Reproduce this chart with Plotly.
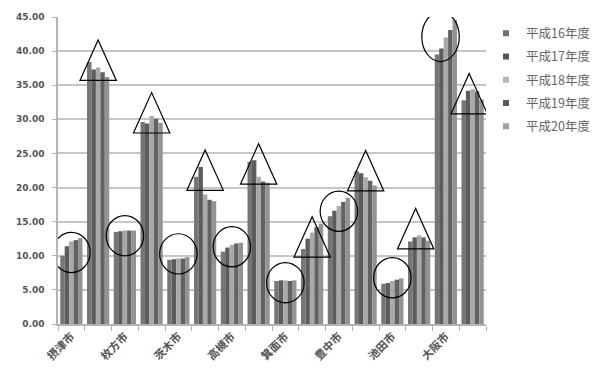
import plotly.graph_objects as go

# City names (two bar groups per city; only the first group of each pair is labelled)
cities = ["摂津市", "枚方市", "茨木市", "高槻市", "箕面市", "豊中市", "池田市", "大阪市"]
years = ["平成16年度", "平成17年度", "平成18年度", "平成19年度", "平成20年度"]

# One value per bar group (16 groups), one list per fiscal year
h16 = [10.0, 38.4, 13.5, 29.6, 9.4, 21.6, 10.6, 23.8, 6.3, 11.0, 15.8, 22.4, 5.9, 12.1, 39.5, 32.8]
h17 = [11.4, 37.3, 13.6, 29.4, 9.5, 23.0, 11.2, 24.0, 6.4, 12.5, 16.6, 22.1, 6.0, 12.7, 40.4, 34.2]
h18 = [12.1, 37.6, 13.7, 30.5, 9.6, 19.0, 11.6, 21.6, 6.4, 13.4, 17.3, 21.5, 6.3, 13.0, 42.0, 34.4]
h19 = [12.3, 36.9, 13.7, 30.1, 9.6, 18.2, 11.8, 20.9, 6.3, 14.2, 17.9, 21.0, 6.5, 12.7, 43.1, 34.1]
h20 = [12.6, 36.2, 13.7, 29.5, 9.8, 18.0, 11.9, 20.7, 6.4, 14.7, 18.5, 20.3, 6.7, 12.2, 44.6, 32.9]
series = [h16, h17, h18, h19, h20]

# Styling
bar_colors = ["#767676", "#5c5c5c", "#a9a9a9", "#626262", "#939393"]
legend_colors = ["#6f6f6f", "#555555", "#b9b9b9", "#5a5a5a", "#a2a2a2"]
grid_color = "#c6c6c6"
axis_color = "#b4b4b4"

n_groups = len(h16)
groups = list(range(n_groups))

fig = go.Figure()
for name, vals, col in zip(years, series, bar_colors):
    fig.add_trace(go.Bar(x=groups, y=vals, name=name, marker=dict(color=col, line=dict(width=0)),
                         showlegend=False))

# Legend entries with small square swatches
for i, (name, col) in enumerate(zip(years, legend_colors)):
    fig.add_trace(go.Scatter(x=[None], y=[None], mode="markers", name=name,
                             legendgroup=f"g{i}",
                             marker=dict(symbol="square", size=6, color=col)))

# Hand-drawn style highlight marks: circles on the labelled groups, triangles on the others
circle_dy = [-1.2, -0.7, 0.7, -0.1, -0.3, -0.7, 0.5, 0.2]
circle_dx = [0, 0, 0, 0, 0, 0, 0, -0.2]
circle_h = [5.9, 5.9, 5.9, 5.9, 5.9, 5.9, 5.9, 7.3]
circle_w = 1.40
tri_dy = [-0.5, -1.4, 1.6, -0.2, -1.2, -0.8, -1.1, -2.0]
tri_dx = [0, 0, 0, 0, 0, 0, -0.13, -0.13]
tri_w = 1.36
tri_h = 5.92

shapes = []
for k in range(n_groups // 2):
    g = 2 * k
    vals = [s[g] for s in series]
    cy = sum(vals) / len(vals) + circle_dy[k]
    cx = g + circle_dx[k]
    shapes.append(dict(type="circle", xref="x", yref="y",
                       x0=cx - circle_w / 2, x1=cx + circle_w / 2,
                       y0=cy - circle_h[k] / 2, y1=cy + circle_h[k] / 2,
                       line=dict(color="black", width=1.2), layer="above"))
    g = 2 * k + 1
    vals = [s[g] for s in series]
    base = min(vals) + tri_dy[k]
    tx = g + tri_dx[k]
    path = (f"M {tx - tri_w / 2},{base} L {tx},{base + tri_h} "
            f"L {tx + tri_w / 2},{base} Z")
    shapes.append(dict(type="path", xref="x", yref="y", path=path,
                       line=dict(color="black", width=1.2), layer="above"))

fig.update_layout(
    width=607, height=377,
    margin=dict(l=58, r=114, t=13, b=53),
    paper_bgcolor="white", plot_bgcolor="white",
    barmode="group", bargap=0.17, bargroupgap=0,
    shapes=shapes,
    legend=dict(x=1.0, xanchor="left", y=0.995, yanchor="top",
                font=dict(family="Noto Sans CJK JP", size=12.5, color="#666666"),
                tracegroupgap=4, bgcolor="rgba(0,0,0,0)"),
    xaxis=dict(range=[-0.5, n_groups - 0.5],
               tickvals=[2 * k for k in range(len(cities))], ticktext=cities,
               tickangle=-45, ticks="", showgrid=False,
               showline=True, linecolor=axis_color, linewidth=1.5,
               tickfont=dict(family="Noto Sans CJK JP", size=11, color="#555555", weight="bold"),
               minor=dict(ticks="outside", tick0=-0.5, dtick=1, ticklen=5,
                          tickcolor=axis_color, showgrid=False)),
    yaxis=dict(range=[0, 45], dtick=5, tickformat=".2f",
               showgrid=True, gridcolor=grid_color, gridwidth=1.5,
               zeroline=False, showline=True, linecolor=axis_color, linewidth=1.5,
               ticks="outside", ticklen=4, tickcolor=axis_color,
               ticklabelstandoff=6,
               tickfont=dict(family="DejaVu Sans", size=9, color="#555555", weight="bold")),
)

fig.write_html("out.html")
